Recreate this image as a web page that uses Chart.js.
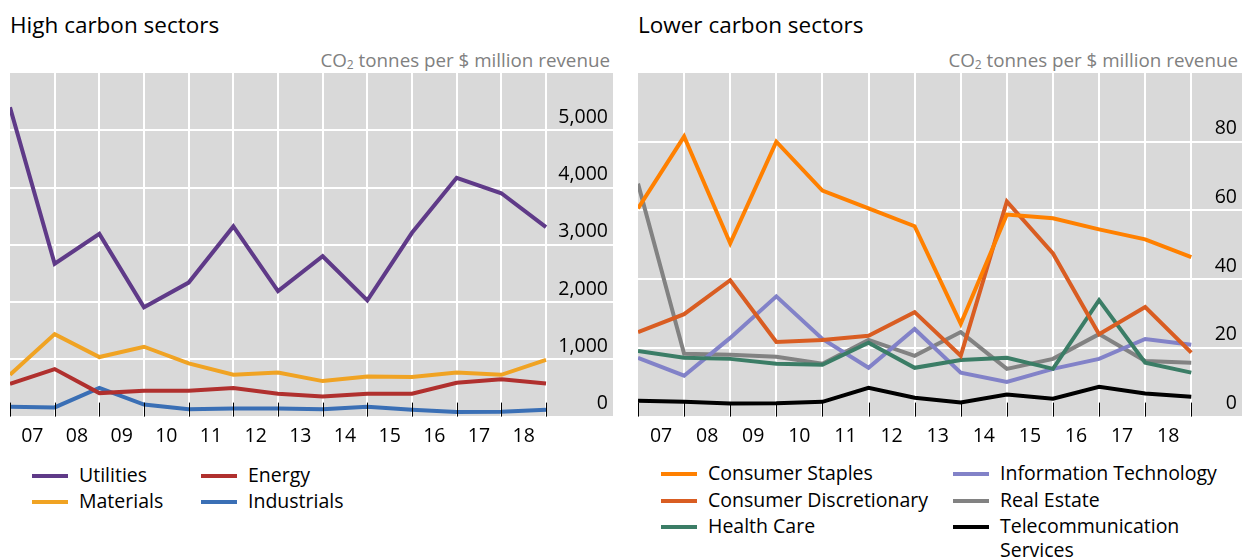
<!DOCTYPE html>
<html>
<head>
<meta charset="utf-8">
<script src="https://cdn.jsdelivr.net/npm/chart.js@4"></script>
<style>
  body { margin: 0; width: 1243px; height: 558px; overflow: hidden; background: #fff; font-family: "Open Sans", sans-serif; color: #000; position: relative; }
  .title { position: absolute; top: 9px; font-size: 22.5px; }
  .unit { position: absolute; top: 47px; font-size: 18.8px; color: #808080; text-align: right; white-space: nowrap; }
  .unit sub { font-size: 12px; vertical-align: -2px; }
  .box { position: absolute; top: 60px; height: 397px; }
  .legend { position: absolute; display: grid; font-size: 19.5px; line-height: 24px; }
  .item { display: flex; align-items: flex-start; }
  .swatch { flex: none; width: 36px; height: 4px; margin-top: 11px; margin-right: 11px; }
</style>
</head>
<body>
<div class="title" style="left:10px">High carbon sectors</div>
<div class="unit" style="right:633px">CO<sub>2</sub> tonnes per $ million revenue</div>
<div class="box" style="left:0; width:620px"><canvas id="high"></canvas></div>
<div class="legend" id="legHigh" style="left:32px; top:463px; row-gap:2px; grid-template-columns:169px 200px"></div>

<div class="title" style="left:638px">Lower carbon sectors</div>
<div class="unit" style="right:5px">CO<sub>2</sub> tonnes per $ million revenue</div>
<div class="box" style="left:630px; width:613px"><canvas id="low"></canvas></div>
<div class="legend" id="legLow" style="left:661px; top:461px; row-gap:2.5px; grid-template-columns:292px 290px"></div>

<script>
// x labels sit between the yearly points
const years = ['07', '08', '09', '10', '11', '12', '13', '14', '15', '16', '17', '18'];

// high carbon sectors
const utilities   = [5400, 2670, 3190, 1910, 2340, 3320, 2190, 2800, 2030, 3210, 4170, 3900, 3310];
const energy      = [570, 830, 410, 450, 450, 500, 400, 350, 400, 400, 590, 650, 580];
const materials   = [730, 1440, 1040, 1220, 930, 730, 770, 620, 700, 690, 770, 730, 990];
const industrials = [170, 160, 500, 210, 130, 140, 140, 130, 170, 120, 80, 85, 120];

// lower carbon sectors
const staples       = [60.6, 81.5, 50.4, 80, 65.8, 60.6, 55.4, 27, 58.8, 57.7, 54.5, 51.6, 46.4];
const discretionary = [24.6, 29.8, 39.7, 21.7, 22.3, 23.5, 30.4, 17.7, 62.6, 47.5, 24, 31.9, 18.6];
const healthCare    = [19.1, 17.1, 16.8, 15.4, 15.1, 21.5, 14.2, 16.5, 17.1, 13.9, 33.9, 15.7, 12.8];
const infoTech      = [17.1, 11.9, 22.9, 35, 22.6, 14.2, 25.5, 12.8, 10.1, 13.9, 16.8, 22.6, 20.9];
const realEstate    = [67.8, 18.3, 18, 17.4, 15.4, 22.3, 17.7, 24.6, 13.9, 16.8, 24, 16.2, 15.7];
const telecom       = [4.6, 4.3, 3.8, 3.9, 4.3, 8.4, 5.5, 4.1, 6.4, 5.2, 8.7, 6.7, 5.8];

const highSeries = [
  { label: 'Utilities', data: utilities, color: '#5f3a88' },
  { label: 'Energy', data: energy, color: '#b0302e' },
  { label: 'Materials', data: materials, color: '#f0a323' },
  { label: 'Industrials', data: industrials, color: '#3a6fb5' },
];
const highLegend = ['Utilities', 'Energy', 'Materials', 'Industrials'];

const lowSeries = [
  { label: 'Telecommunication Services', data: telecom, color: '#000000' },
  { label: 'Consumer Staples', data: staples, color: '#ff8000' },
  { label: 'Consumer Discretionary', data: discretionary, color: '#d95d22' },
  { label: 'Health Care', data: healthCare, color: '#3b7d66' },
  { label: 'Information Technology', data: infoTech, color: '#8282c8' },
  { label: 'Real Estate', data: realEstate, color: '#828282' },
];
const lowLegend = ['Consumer Staples', 'Information Technology', 'Consumer Discretionary', 'Real Estate', 'Health Care', 'Telecommunication Services'];

const plotBg = {
  id: 'plotBg',
  beforeDraw(chart) {
    const { ctx, chartArea: a } = chart;
    ctx.save();
    ctx.fillStyle = '#d9d9d9';
    ctx.fillRect(a.left, a.top, a.right - a.left, a.bottom - a.top);
    ctx.restore();
  }
};

// short black ticks rising from the x axis at each year boundary
const yearTicks = {
  id: 'yearTicks',
  afterDatasetsDraw(chart) {
    const { ctx, chartArea: a, scales: { x } } = chart;
    ctx.save();
    ctx.strokeStyle = '#000';
    ctx.lineWidth = 1;
    for (let i = 0; i <= years.length; i++) {
      const px = Math.round(x.getPixelForValue(i)) + 0.5;
      ctx.beginPath();
      ctx.moveTo(px, a.bottom);
      ctx.lineTo(px, a.bottom - 14);
      ctx.stroke();
    }
    ctx.restore();
  }
};

function makeChart(id, series, xMax, yMax, yStep, pad) {
  return new Chart(document.getElementById(id), {
    type: 'line',
    data: {
      datasets: series.map(s => ({
        label: s.label,
        data: s.data.map((v, i) => ({ x: i, y: v })),
        borderColor: s.color,
        backgroundColor: s.color,
        borderWidth: 4,
        pointRadius: 0,
        tension: 0,
      })),
    },
    options: {
      responsive: true,
      maintainAspectRatio: false,
      animation: false,
      layout: { padding: pad },
      plugins: { legend: { display: false }, tooltip: { enabled: false } },
      scales: {
        x: {
          type: 'linear',
          min: 0,
          max: xMax,
          afterBuildTicks: (scale) => {
            const t = [];
            for (let v = 0; v <= years.length; v += 0.5) t.push({ value: v });
            scale.ticks = t;
          },
          grid: {
            drawTicks: false,
            lineWidth: 2,
            color: (c) => (Number.isInteger(c.tick.value) && c.tick.value > 0) ? '#ffffff' : 'rgba(0,0,0,0)',
          },
          border: { display: false },
          ticks: {
            autoSkip: false,
            maxRotation: 0,
            padding: 8,
            color: '#000',
            font: { family: 'Open Sans', size: 19.5 },
            callback: (v) => Number.isInteger(v) ? '' : years[Math.floor(v)],
          },
        },
        y: {
          position: 'right',
          min: 0,
          max: yMax,
          grid: {
            drawTicks: false,
            lineWidth: 2,
            color: (c) => c.tick.value === yMax ? 'rgba(0,0,0,0)' : '#ffffff',
          },
          border: { display: false },
          ticks: {
            stepSize: yStep,
            mirror: true,
            padding: -5, // pulls the mirrored labels back inside the grey area
            labelOffset: -13,
            color: '#000',
            font: { family: 'Open Sans', size: 19.5 },
            callback: (v) => v === yMax ? '' : v.toLocaleString('en-US'),
          },
        },
      },
    },
    plugins: [plotBg, yearTicks],
  });
}

makeChart('high', highSeries, 13.5, 6000, 1000, { left: 10, right: 7, top: 13, bottom: 1 });
makeChart('low', lowSeries, 13.1, 100, 20, { left: 8, right: 1, top: 13, bottom: 1 });

function buildLegend(elId, series, order) {
  const el = document.getElementById(elId);
  order.forEach(name => {
    const s = series.find(d => d.label === name);
    const item = document.createElement('div');
    item.className = 'item';
    const sw = document.createElement('span');
    sw.className = 'swatch';
    sw.style.background = s.color;
    const tx = document.createElement('span');
    tx.textContent = s.label;
    item.appendChild(sw);
    item.appendChild(tx);
    el.appendChild(item);
  });
}
buildLegend('legHigh', highSeries, highLegend);
buildLegend('legLow', lowSeries, lowLegend);
</script>
</body>
</html>
